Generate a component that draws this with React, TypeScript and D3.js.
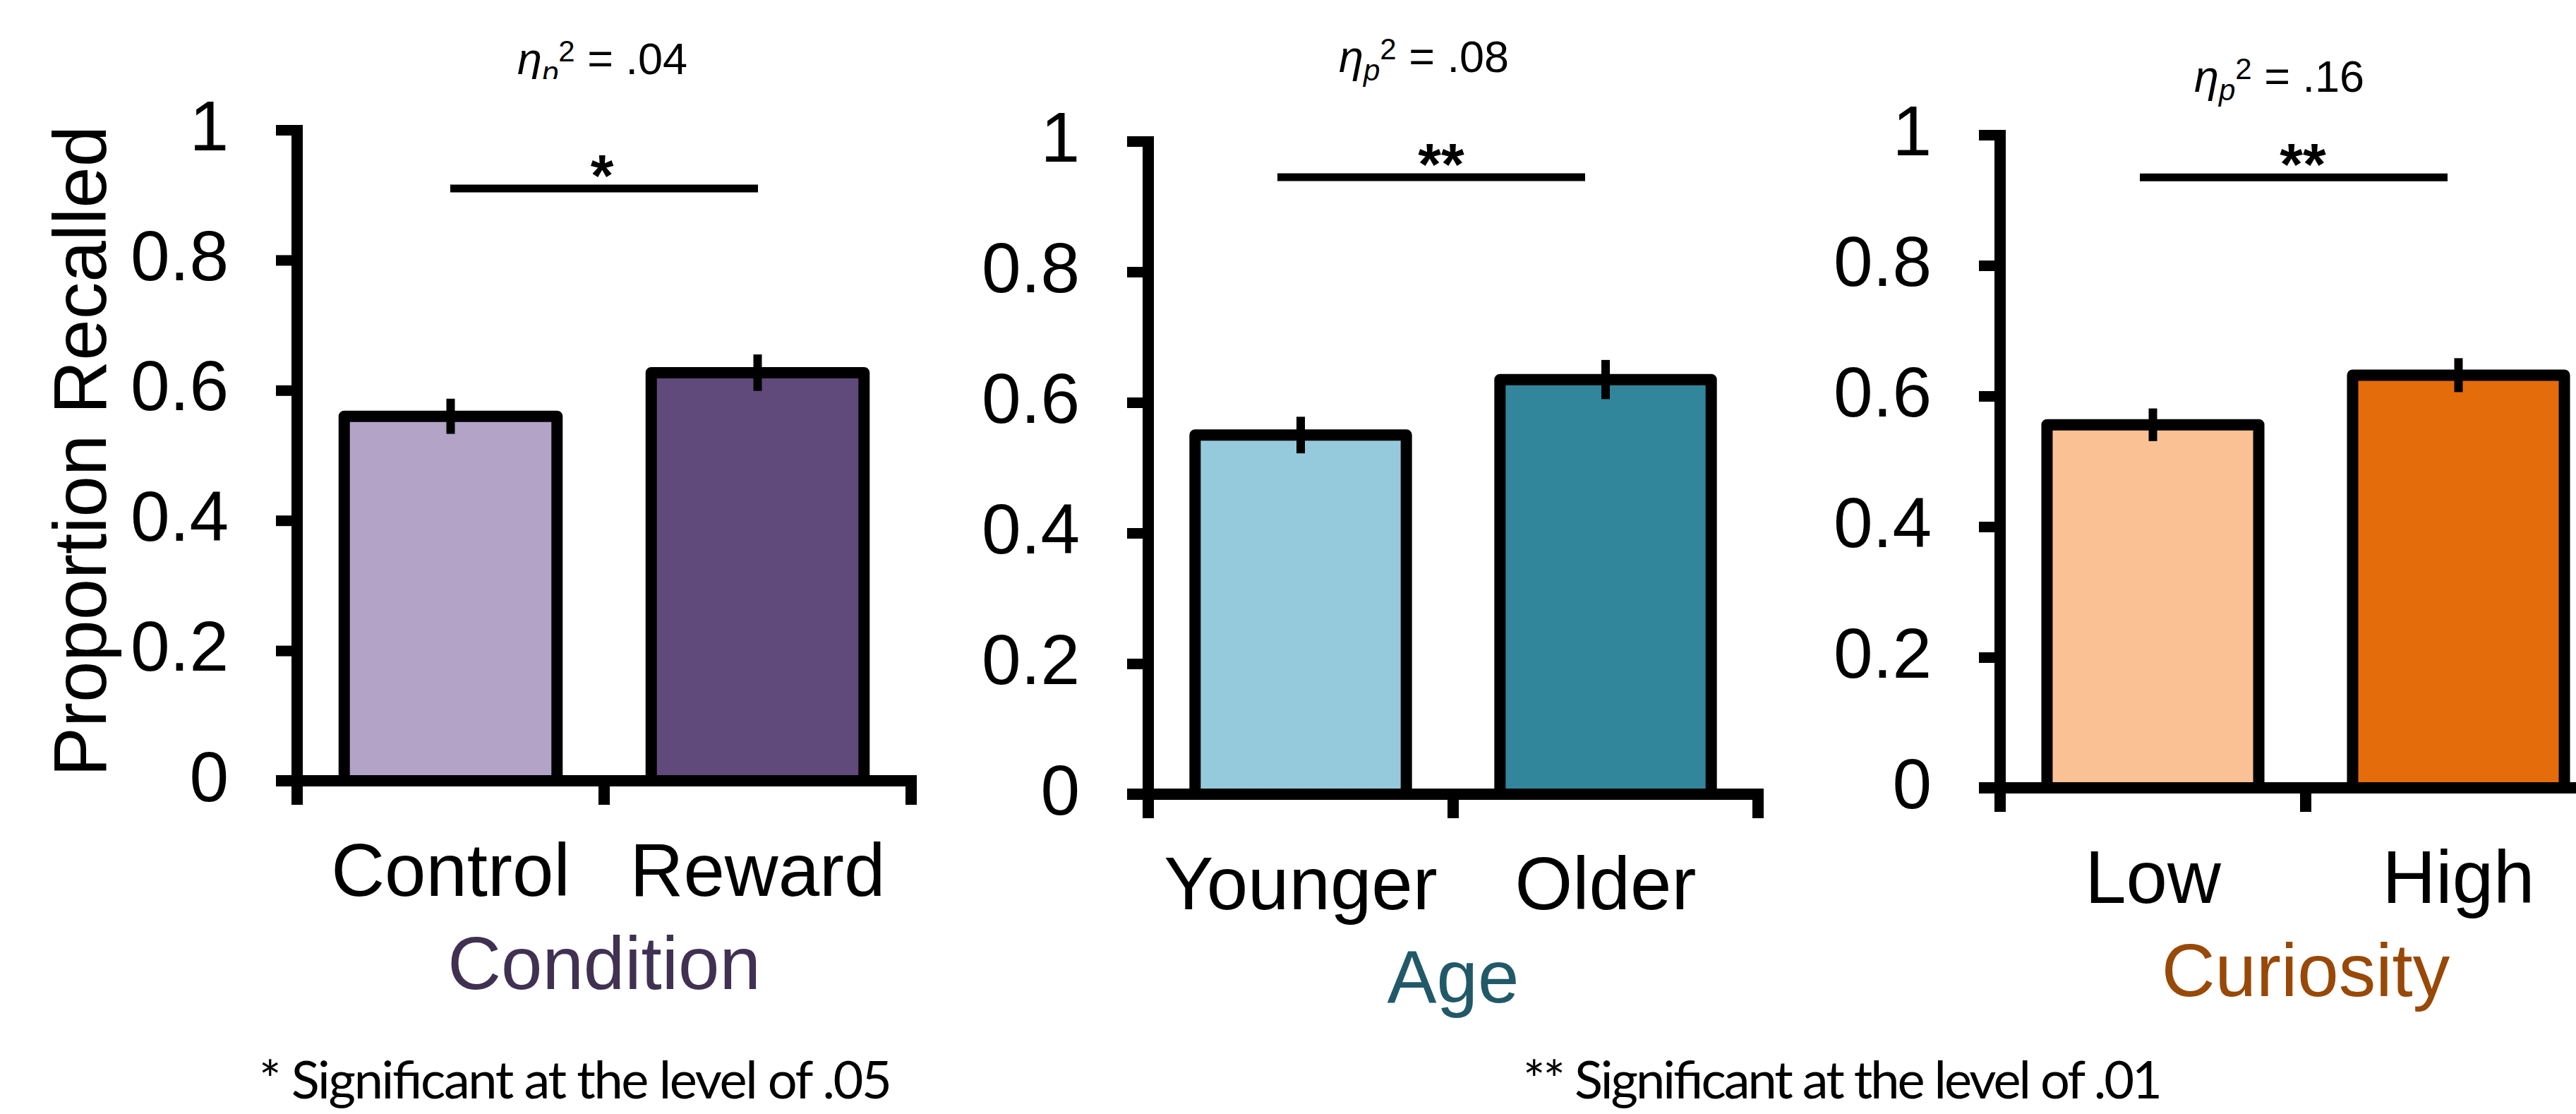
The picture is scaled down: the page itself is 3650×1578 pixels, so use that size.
import React, { useEffect, useRef } from 'react';
import * as d3 from 'd3';

const W = 3650;
const H = 1578;

// values
const conditionCategories = ['Control', 'Reward'];
const conditionMeans = [0.56, 0.627];
const conditionErrors = [0.027, 0.028];

const ageCategories = ['Younger', 'Older'];
const ageMeans = [0.55, 0.635];
const ageErrors = [0.028, 0.03];

const curiosityCategories = ['Low', 'High'];
const curiosityMeans = [0.556, 0.632];
const curiosityErrors = [0.025, 0.026];

const yTicks = [0, 0.2, 0.4, 0.6, 0.8, 1];
const factorTitles = ['Condition', 'Age', 'Curiosity'];
const etaValues = ['.04', '.08', '.16'];
const sigMarks = ['*', '**', '**'];
const sigHeights = [0.91, 0.945, 0.935];
const footnotes = ['* Significant at the level of .05', '** Significant at the level of .01'];

const FONT = '"Liberation Sans", Arial, sans-serif';

// layout of the three panels (pixels)
const panels = [
  {
    cats: conditionCategories, means: conditionMeans, errs: conditionErrors,
    left: 421, top: 184, bottom: 1106, step: 435,
    fills: ['#b2a3c7', '#604a7b'], titleColor: '#403152',
    etaX: 733, etaY: 105, sigX: 638, starX: 853, clipEta: true,
  },
  {
    cats: ageCategories, means: ageMeans, errs: ageErrors,
    left: 1627, top: 200, bottom: 1125, step: 432,
    fills: ['#95cadc', '#31869b'], titleColor: '#215968',
    etaX: 1897, etaY: 102, sigX: 1810, starX: 2042, clipEta: false,
  },
  {
    cats: curiosityCategories, means: curiosityMeans, errs: curiosityErrors,
    left: 2834, top: 191, bottom: 1116, step: 433,
    fills: ['#f9c194', '#e46c0a'], titleColor: '#984807',
    etaX: 3109, etaY: 130, sigX: 3032, starX: 3263, clipEta: false,
  },
];

function RecallChart() {
  const ref = useRef(null);

  useEffect(() => {
    const svg = d3.select(ref.current);
    svg.selectAll('*').remove();

    // the first effect size label is cut off under the baseline in the original
    svg.append('defs')
      .append('clipPath')
      .attr('id', 'eta-clip')
      .append('rect')
      .attr('x', 0)
      .attr('y', 0)
      .attr('width', W)
      .attr('height', 112);

    panels.forEach((p, i) => {
      const g = svg.append('g');

      const y = d3.scaleLinear().domain([0, 1]).range([p.bottom, p.top]);
      const x = d3.scaleBand()
        .domain(p.cats)
        .range([p.left, p.left + 2 * p.step])
        .paddingInner(0.27)
        .paddingOuter(0.135);

      // bars
      g.selectAll('rect.bar')
        .data(p.cats)
        .enter()
        .append('rect')
        .attr('class', 'bar')
        .attr('x', (d) => x(d) + 8)
        .attr('width', x.bandwidth() - 16)
        .attr('y', (d, j) => y(p.means[j]))
        .attr('height', (d, j) => y(0) - y(p.means[j]))
        .attr('fill', (d, j) => p.fills[j])
        .attr('stroke', '#000')
        .attr('stroke-width', 16)
        .attr('stroke-linejoin', 'round');

      // error bars
      g.selectAll('line.err')
        .data(p.cats)
        .enter()
        .append('line')
        .attr('class', 'err')
        .attr('x1', (d) => x(d) + x.bandwidth() / 2)
        .attr('x2', (d) => x(d) + x.bandwidth() / 2)
        .attr('y1', (d, j) => y(p.means[j] - p.errs[j]))
        .attr('y2', (d, j) => y(p.means[j] + p.errs[j]))
        .attr('stroke', '#000')
        .attr('stroke-width', 12);

      // y axis
      const yAxis = g.append('g')
        .attr('transform', `translate(${p.left},0)`)
        .call(d3.axisLeft(y).tickValues(yTicks).tickFormat(d3.format('')).tickSize(30).tickPadding(67));
      yAxis.select('.domain').remove();
      yAxis.selectAll('.tick line').attr('stroke', '#000').attr('stroke-width', 15);
      yAxis.selectAll('.tick text')
        .attr('font-family', FONT)
        .attr('font-size', 100)
        .attr('fill', '#000')
        .attr('dy', '0.28em');

      g.append('line')
        .attr('x1', p.left)
        .attr('x2', p.left)
        .attr('y1', y(1) - 7)
        .attr('y2', y(0) + 34)
        .attr('stroke', '#000')
        .attr('stroke-width', 16);

      // x axis
      g.append('line')
        .attr('x1', p.left - 30)
        .attr('x2', Math.min(p.left + 2 * p.step + 8, W))
        .attr('y1', y(0))
        .attr('y2', y(0))
        .attr('stroke', '#000')
        .attr('stroke-width', 16);

      g.selectAll('line.xtick')
        .data([1, 2])
        .enter()
        .append('line')
        .attr('class', 'xtick')
        .attr('x1', (d) => p.left + d * p.step)
        .attr('x2', (d) => p.left + d * p.step)
        .attr('y1', y(0))
        .attr('y2', y(0) + 34)
        .attr('stroke', '#000')
        .attr('stroke-width', 16);

      // category labels
      g.selectAll('text.cat')
        .data(p.cats)
        .enter()
        .append('text')
        .attr('class', 'cat')
        .attr('x', (d) => x(d) + x.bandwidth() / 2)
        .attr('y', y(0) + 163)
        .attr('text-anchor', 'middle')
        .attr('font-family', FONT)
        .attr('font-size', 105)
        .text((d) => d);

      // factor title
      g.append('text')
        .attr('x', p.left + p.step)
        .attr('y', y(0) + 295)
        .attr('text-anchor', 'middle')
        .attr('font-family', FONT)
        .attr('font-size', 105)
        .attr('fill', p.titleColor)
        .text(factorTitles[i]);

      // significance bar
      g.append('line')
        .attr('x1', p.sigX)
        .attr('x2', p.sigX + 436)
        .attr('y1', y(sigHeights[i]))
        .attr('y2', y(sigHeights[i]))
        .attr('stroke', '#000')
        .attr('stroke-width', 11);

      g.append('text')
        .attr('x', p.starX)
        .attr('y', y(sigHeights[i]) + 11)
        .attr('text-anchor', 'middle')
        .attr('font-family', FONT)
        .attr('font-weight', 'bold')
        .attr('font-size', 84)
        .text(sigMarks[i]);

      // partial eta squared
      const eta = g.append('text')
        .attr('x', p.etaX)
        .attr('y', p.etaY)
        .attr('font-family', FONT)
        .attr('font-size', 63)
        .attr('fill', '#000');
      if (p.clipEta) eta.attr('clip-path', 'url(#eta-clip)');
      eta.append('tspan').attr('font-style', 'italic').text('η');
      eta.append('tspan').attr('font-style', 'italic').attr('font-size', 42).attr('dy', 12).text('p');
      eta.append('tspan').attr('font-size', 42).attr('dy', -30).text('2');
      eta.append('tspan').attr('dy', 18).text(` = ${etaValues[i]}`);
    });

    // y axis title
    svg.append('text')
      .attr('transform', 'translate(150,639) rotate(-90)')
      .attr('text-anchor', 'middle')
      .attr('font-family', FONT)
      .attr('font-size', 105)
      .text('Proportion Recalled');

    // footnotes
    svg.selectAll('text.note')
      .data(footnotes)
      .enter()
      .append('text')
      .attr('class', 'note')
      .attr('x', (d, i) => (i === 0 ? 367 : 2158))
      .attr('y', 1556)
      .attr('font-family', 'Lato, "Open Sans", sans-serif')
      .attr('font-size', 74)
      .attr('textLength', (d, i) => (i === 0 ? 897 : 906))
      .text((d) => d);
  }, []);

  return (
    <svg
      ref={ref}
      width={W}
      height={H}
      style={{ position: 'absolute', left: 0, top: 0, display: 'block', background: '#fff' }}
    />
  );
}

export default function App() {
  return <RecallChart />;
}
